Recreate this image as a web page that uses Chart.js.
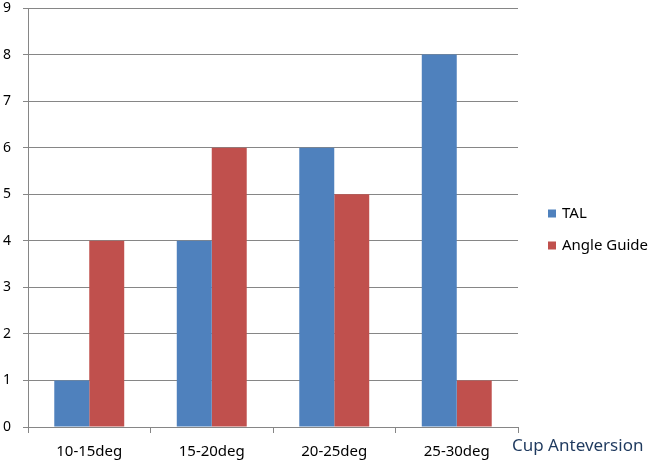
<!DOCTYPE html>
<html>
<head>
<meta charset="utf-8">
<script src="https://cdn.jsdelivr.net/npm/chart.js@4/dist/chart.umd.min.js"></script>
<style>
  html, body { margin: 0; padding: 0; background: #fff; }
  #wrap { width: 654px; height: 461px; }
</style>
</head>
<body>
<div id="wrap"><canvas id="chart" width="654" height="461"></canvas></div>
<script>
const categories = ['10-15deg', '15-20deg', '20-25deg', '25-30deg'];
const talValues = [1, 4, 6, 8];
const angleGuideValues = [4, 6, 5, 1];
const yTicks = [0, 1, 2, 3, 4, 5, 6, 7, 8, 9];

const FONT = "'Noto Sans', 'Liberation Sans', sans-serif";

// x axis name sits right of the plot, on the label line
const axisNamePlugin = {
    id: 'axisName',
    afterDraw(chart) {
        const ctx = chart.ctx;
        const area = chart.chartArea;
        ctx.save();
        ctx.font = '17px ' + FONT;
        ctx.fillStyle = '#1F3A5F';
        ctx.textBaseline = 'middle';
        ctx.textAlign = 'left';
        ctx.fillText('Cup Anteversion', area.right - 6, area.bottom + 19);
        ctx.restore();
    }
};

// legend to the right, Excel style (small square + label)
const sideLegendPlugin = {
    id: 'sideLegend',
    afterDraw(chart) {
        const ctx = chart.ctx;
        const area = chart.chartArea;
        const midY = (area.top + area.bottom) / 2 + 12;
        const gap = 32;
        const sets = chart.data.datasets;
        ctx.save();
        ctx.font = '15px ' + FONT;
        ctx.textBaseline = 'middle';
        ctx.textAlign = 'left';
        sets.forEach((ds, i) => {
            const y = midY + (i - (sets.length - 1) / 2) * gap;
            ctx.fillStyle = ds.backgroundColor;
            ctx.fillRect(area.right + 30, y - 4, 8, 8);
            ctx.fillStyle = '#000';
            ctx.fillText(ds.label, area.right + 44, y);
        });
        ctx.restore();
    }
};

const chart = new Chart(document.getElementById('chart'), {
    type: 'bar',
    data: {
        labels: categories,
        datasets: [
            {
                label: 'TAL',
                data: talValues,
                backgroundColor: '#4F81BD',
                categoryPercentage: 0.571,
                barPercentage: 1
            },
            {
                label: 'Angle Guide',
                data: angleGuideValues,
                backgroundColor: '#C0504D',
                categoryPercentage: 0.571,
                barPercentage: 1
            }
        ]
    },
    options: {
        responsive: false,
        animation: false,
        layout: {
            padding: { top: 8, left: 0, right: 136, bottom: 0 }
        },
        scales: {
            x: {
                grid: {
                    display: true,
                    drawOnChartArea: false,
                    offset: true,
                    tickLength: 6,
                    color: '#868686'
                },
                border: { color: '#868686' },
                ticks: {
                    color: '#000',
                    font: { family: FONT, size: 15 },
                    padding: 10
                },
                afterFit(scale) {
                    scale.height = 34;
                    scale.paddingLeft = 0;
                    scale.paddingRight = 0;
                }
            },
            y: {
                min: 0,
                max: 9,
                afterBuildTicks(scale) {
                    scale.ticks = yTicks.map(v => ({ value: v }));
                },
                grid: {
                    color: '#868686',
                    tickLength: 5
                },
                border: { color: '#868686' },
                ticks: {
                    color: '#000',
                    font: { family: FONT, size: 14 },
                    padding: 12
                },
                afterFit(scale) {
                    scale.width = 28;
                    scale.paddingTop = 0;
                    scale.paddingBottom = 0;
                }
            }
        },
        plugins: {
            legend: { display: false },
            tooltip: { enabled: false }
        }
    },
    plugins: [axisNamePlugin, sideLegendPlugin]
});
</script>
</body>
</html>
